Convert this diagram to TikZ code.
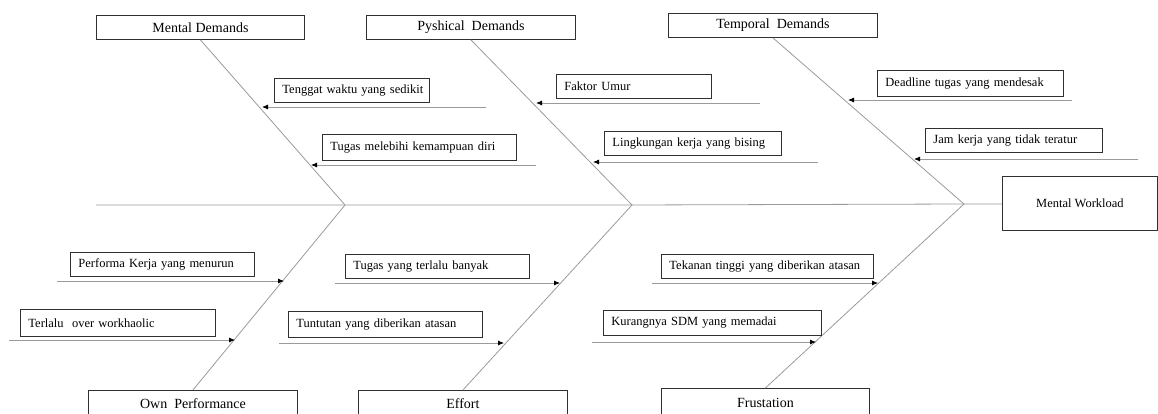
\documentclass[tikz,border=0pt]{standalone}
\usepackage{fontspec}
\setmainfont{Liberation Serif}
\usetikzlibrary{arrows.meta}
\definecolor{bonec}{HTML}{9A9A9A}
\definecolor{boxc}{HTML}{303030}
\begin{document}
\begin{tikzpicture}[x=1pt,y=-1pt,
  cause/.style={draw=boxc, line width=0.9pt, inner xsep=8pt, inner ysep=0pt, anchor=north west,
    font=\fontsize{12.5}{14}\selectfont, align=left},
  cat/.style={draw=boxc, line width=0.9pt, inner sep=0pt, anchor=north west,
    font=\fontsize{14}{16}\selectfont, align=center},
  bone/.style={draw=bonec, line width=0.8pt},
  arr/.style={draw=bonec, line width=0.8pt, -{Latex[length=6pt,width=5pt,color=black]}}]
\useasboundingbox (0,0) rectangle (1158,414);
\clip (0,0) rectangle (1158,414);
% category boxes
\node[cat, minimum width=208, minimum height=24] (md) at (96,15) {Mental Demands};
\node[cat, minimum width=209, minimum height=24] (pd) at (366,15) {Pyshical\ \ Demands};
\node[cat, minimum width=209, minimum height=24] (td) at (668,13) {Temporal\ \ Demands};
\node[cat, minimum width=209, minimum height=27] (op) at (88,390) {Own\ \ Performance};
\node[cat, minimum width=209, minimum height=27] (ef) at (358,390) {Effort};
\node[cat, minimum width=208, minimum height=28] (fr) at (661,388) {Frustation};
\node[cat, minimum width=155, minimum height=54, font=\fontsize{12.5}{14}\selectfont] (mw) at (1002,176) {Mental Workload};
% spine and bones
\coordinate (s0) at (96,205);
\coordinate (j1) at (345,205);
\coordinate (j2) at (632,205);
\coordinate (j3) at (964,204);
\draw[bone] (s0) -- (j1) -- (j2) -- (j3) -- (mw.west |- j3);
\draw[bone] (md.south) -- (j1) -- (op.north);
\draw[bone] (pd.south) -- (j2) -- (ef.north);
\draw[bone] (td.south) -- (j3) -- (fr.north);
% cause boxes
\node[cause, text width=139, minimum height=24] (c1) at (274,78) {\mbox{Tenggat waktu yang sedikit}};
\node[cause, text width=178, minimum height=26] (c2) at (322,134) {\mbox{Tugas melebihi kemampuan diri}};
\node[cause, text width=139, minimum height=24] (c3) at (556,74) {\mbox{Faktor Umur}};
\node[cause, text width=161, minimum height=24] (c4) at (604,131) {\mbox{Lingkungan kerja yang bising}};
\node[cause, text width=170, minimum height=26] (c5) at (877,70) {\mbox{Deadline tugas yang mendesak}};
\node[cause, text width=161, minimum height=24] (c6) at (925,128) {\mbox{Jam kerja yang tidak teratur}};
\node[cause, text width=168, minimum height=24] (c7) at (70,252) {\mbox{Performa Kerja yang menurun}};
\node[cause, text width=179, minimum height=27] (c8) at (20,309) {\mbox{Terlalu\ \ over workhaolic}};
\node[cause, text width=168, minimum height=24] (c9) at (345,254) {\mbox{Tugas yang terlalu banyak}};
\node[cause, text width=178, minimum height=26] (c10) at (288,311) {\mbox{Tuntutan yang diberikan atasan}};
\node[cause, text width=196, minimum height=24] (c11) at (661,254) {\mbox{Tekanan tinggi yang diberikan atasan}};
\node[cause, text width=202, minimum height=25] (c12) at (603,310) {\mbox{Kurangnya SDM yang memadai}};
% arrows
\coordinate (a1s) at (486,107);  \coordinate (a1e) at (262,107);
\coordinate (a2s) at (536,165);  \coordinate (a2e) at (311,165);
\coordinate (a3s) at (760,103);  \coordinate (a3e) at (536,103);
\coordinate (a4s) at (818,162);  \coordinate (a4e) at (593,162);
\coordinate (a5s) at (1072,100); \coordinate (a5e) at (848,100);
\coordinate (a6s) at (1138,159); \coordinate (a6e) at (914,159);
\coordinate (a7s) at (57,281);   \coordinate (a7e) at (284,281);
\coordinate (a8s) at (9,340);    \coordinate (a8e) at (235,340);
\coordinate (a9s) at (335,283);  \coordinate (a9e) at (560,283);
\coordinate (a10s) at (279,343); \coordinate (a10e) at (504,343);
\coordinate (a11s) at (652,283); \coordinate (a11e) at (878,283);
\coordinate (a12s) at (592,342); \coordinate (a12e) at (816,342);
\foreach \i in {1,...,12} {\draw[arr] (a\i s) -- (a\i e);}
\end{tikzpicture}
\end{document}
